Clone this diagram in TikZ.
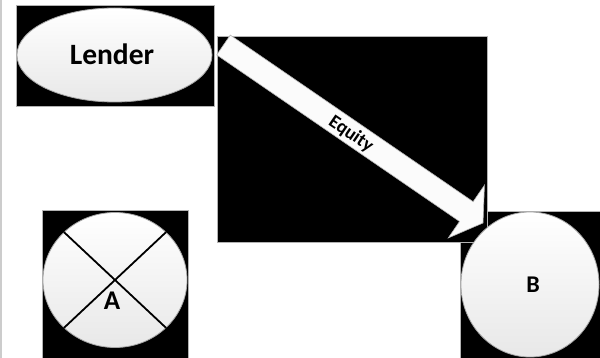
\documentclass[tikz,border=0pt]{standalone}
\usepackage{fontspec}
\setmainfont{Carlito}
\usetikzlibrary{shapes.geometric,calc}
\begin{document}
\begin{tikzpicture}[x=1pt,y=-1pt,
  blackbox/.style={fill=black, draw=gray!60, line width=0.6pt},
  bubble/.style={ellipse, inner sep=0pt, draw=gray!70, line width=0.8pt, top color=white, bottom color=black!9},
  lbl/.style={font=\bfseries\fontsize{29.5}{31}\selectfont, text=black, inner sep=0pt}
]
\useasboundingbox (0,0) rectangle (600,358);
\draw[gray!40, line width=1.5pt] (1,0) -- (1,358);
% boxes
\path[blackbox] (16,5) rectangle (214,106);
\path[blackbox] (42,210) rectangle (188,358);
\path[blackbox] (460,211) rectangle (600,358);
\path[blackbox] (217,36) rectangle (487,242);
% Lender
\node[bubble, minimum width=195pt, minimum height=94pt] (lender) at (114.5,55) {};
\node[lbl] (lendertext) at (112,54) {Lender};
% A
\node[bubble, minimum width=144pt, minimum height=135pt] (A) at (115,280) {};
\draw[line width=1.8pt] (A.north west) -- (A.south east);
\draw[line width=1.8pt] (A.north east) -- (A.south west);
\node[lbl, font=\bfseries\fontsize{27}{29}\selectfont] (Atext) at (112,301) {A};
% B
\node[bubble, minimum width=138pt, minimum height=145pt] (B) at (530,284.5) {};
\node[lbl, font=\bfseries\fontsize{24}{26}\selectfont] (Btext) at (533,284.5) {B};
% Equity arrow
\coordinate (s) at (223.5,45);
\coordinate (t) at (483,223);
\coordinate (hb) at ($(s)!294.5pt!(t)$);
\path[fill=gray!3, draw=gray!60, line width=0.6pt]
  ($(s)!12pt!90:(t)$) -- ($(hb)!12pt!90:(t)$) -- ($(hb)!32pt!90:(t)$) -- (t)
  -- ($(hb)!32pt!-90:(t)$) -- ($(hb)!12pt!-90:(t)$) -- ($(s)!12pt!-90:(t)$) -- cycle;
\node[font=\bfseries\fontsize{19}{21}\selectfont, rotate=-34.4, inner sep=0pt] (eq) at (351,134) {Equity};
\end{tikzpicture}
\end{document}
